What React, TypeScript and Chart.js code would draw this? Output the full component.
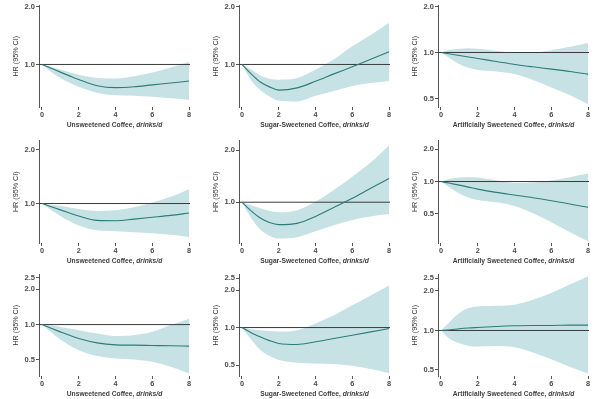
import React, { useEffect, useRef } from "react";
import { Chart, registerables } from "chart.js";

Chart.register(...registerables);

// ---------- data ----------
const DOSE = [0, 0.5, 1, 1.5, 2, 3, 4, 5, 6, 7, 8];
const X_TICKS = [0, 2, 4, 6, 8];
const X_MIN = -0.16;
const X_MAX = 8.05;
const REF_HR = 1;

const TITLE_MAIN = ["Unsweetened Coffee, ", "Sugar-Sweetened Coffee, ", "Artificially Sweetened Coffee, "];
const TITLE_UNIT = "drinks/d";
const Y_TITLE = "HR (95% CI)";

const Y_TICKS_A = [1, 2];
const Y_TICKS_B = [0.5, 1, 2];
const Y_TICKS_C = [0.5, 1, 2, 2.5];

// row 1
const EST_11 = [1, 0.955, 0.912, 0.872, 0.835, 0.775, 0.757, 0.765, 0.783, 0.8, 0.82];
const LO_11 = [1, 0.914, 0.85, 0.804, 0.765, 0.713, 0.69, 0.686, 0.678, 0.666, 0.653];
const HI_11 = [1, 0.974, 0.94, 0.91, 0.883, 0.85, 0.844, 0.867, 0.907, 0.963, 1.034];
const RANGE_11 = [0.63, 2.03];

const EST_12 = [1, 0.893, 0.81, 0.764, 0.735, 0.755, 0.817, 0.893, 0.973, 1.064, 1.164];
const LO_12 = [1, 0.826, 0.735, 0.68, 0.646, 0.641, 0.686, 0.727, 0.773, 0.801, 0.82];
const HI_12 = [1, 0.94, 0.876, 0.843, 0.833, 0.849, 0.94, 1.064, 1.244, 1.425, 1.65];
const RANGE_12 = [0.61, 2.03];

const EST_13 = [1, 0.978, 0.956, 0.935, 0.914, 0.874, 0.835, 0.806, 0.779, 0.752, 0.722];
const LO_13 = [1, 0.914, 0.839, 0.794, 0.767, 0.752, 0.722, 0.66, 0.591, 0.527, 0.458];
const HI_13 = [1, 1.041, 1.057, 1.067, 1.057, 1.025, 0.995, 1.0, 1.036, 1.089, 1.156];
const RANGE_13 = [0.44, 2.03];

// row 2
const EST_21 = [1, 0.96, 0.921, 0.885, 0.851, 0.804, 0.8, 0.817, 0.837, 0.858, 0.884];
const LO_21 = [1, 0.92, 0.851, 0.795, 0.752, 0.707, 0.699, 0.69, 0.681, 0.667, 0.648];
const HI_21 = [1, 0.985, 0.972, 0.95, 0.932, 0.909, 0.917, 0.952, 1.012, 1.09, 1.204];
const RANGE_21 = [0.63, 2.26];

const EST_22 = [1, 0.89, 0.809, 0.762, 0.741, 0.754, 0.827, 0.932, 1.054, 1.204, 1.374];
const LO_22 = [1, 0.81, 0.693, 0.64, 0.615, 0.626, 0.678, 0.734, 0.788, 0.827, 0.853];
const HI_22 = [1, 0.96, 0.924, 0.89, 0.876, 0.899, 1.009, 1.178, 1.405, 1.699, 2.136];
const RANGE_22 = [0.58, 2.28];

const EST_23 = [1, 0.962, 0.925, 0.886, 0.849, 0.791, 0.747, 0.706, 0.662, 0.617, 0.574];
const LO_23 = [1, 0.87, 0.774, 0.71, 0.671, 0.639, 0.591, 0.505, 0.417, 0.337, 0.276];
const HI_23 = [1, 1.06, 1.089, 1.105, 1.089, 1.029, 0.975, 0.98, 1.022, 1.097, 1.186];
const RANGE_23 = [0.266, 2.42];

// row 3
const EST_31 = [1, 0.93, 0.867, 0.81, 0.761, 0.699, 0.672, 0.668, 0.664, 0.66, 0.655];
const LO_31 = [1, 0.86, 0.746, 0.665, 0.606, 0.539, 0.515, 0.505, 0.482, 0.437, 0.384];
const HI_31 = [1, 0.98, 0.955, 0.925, 0.895, 0.839, 0.801, 0.812, 0.867, 0.99, 1.124];
const RANGE_31 = [0.365, 2.67];

const EST_32 = [1, 0.91, 0.842, 0.785, 0.745, 0.731, 0.768, 0.817, 0.868, 0.923, 0.982];
const LO_32 = [1, 0.8, 0.659, 0.59, 0.548, 0.522, 0.515, 0.509, 0.494, 0.464, 0.429];
const HI_32 = [1, 0.97, 0.952, 0.938, 0.929, 0.952, 1.076, 1.255, 1.508, 1.813, 2.18];
const RANGE_32 = [0.408, 2.67];

const EST_33 = [1, 1.012, 1.03, 1.044, 1.054, 1.073, 1.086, 1.092, 1.092, 1.098, 1.098];
const LO_33 = [1, 0.858, 0.8, 0.763, 0.754, 0.763, 0.746, 0.679, 0.603, 0.53, 0.471];
const HI_33 = [1, 1.172, 1.357, 1.482, 1.526, 1.544, 1.572, 1.716, 1.932, 2.236, 2.589];
const RANGE_33 = [0.45, 2.67];

// ---------- styling / layout ----------
const FONT = '"Liberation Sans", Arial, sans-serif';
const BAND = "#c7e2e5";
const LINE = "#2c7c79";
const REF = "#3a3a3a";
const AXIS = "#555555";

const ROWS = [
  { top: 0, h: 133, chartTop: 5, axisH: 26 },
  { top: 135, h: 133, chartTop: 5, axisH: 25 },
  { top: 269, h: 130, chartTop: 5, axisH: 23 },
];
const COL_LEFT = [0, 200, 399];

const PANELS = [
  { r: 0, c: 0, est: EST_11, lo: LO_11, hi: HI_11, range: RANGE_11, yt: Y_TICKS_A },
  { r: 0, c: 1, est: EST_12, lo: LO_12, hi: HI_12, range: RANGE_12, yt: Y_TICKS_A },
  { r: 0, c: 2, est: EST_13, lo: LO_13, hi: HI_13, range: RANGE_13, yt: Y_TICKS_B },
  { r: 1, c: 0, est: EST_21, lo: LO_21, hi: HI_21, range: RANGE_21, yt: Y_TICKS_A },
  { r: 1, c: 1, est: EST_22, lo: LO_22, hi: HI_22, range: RANGE_22, yt: Y_TICKS_A },
  { r: 1, c: 2, est: EST_23, lo: LO_23, hi: HI_23, range: RANGE_23, yt: Y_TICKS_B },
  { r: 2, c: 0, est: EST_31, lo: LO_31, hi: HI_31, range: RANGE_31, yt: Y_TICKS_C },
  { r: 2, c: 1, est: EST_32, lo: LO_32, hi: HI_32, range: RANGE_32, yt: Y_TICKS_C },
  { r: 2, c: 2, est: EST_33, lo: LO_33, hi: HI_33, range: RANGE_33, yt: Y_TICKS_C },
];

const xTitlePlugin = {
  id: "xTitle",
  afterDraw(chart: any, _args: any, opts: any) {
    const { ctx, chartArea } = chart;
    const cx = (chartArea.left + chartArea.right) / 2;
    const y = chartArea.bottom + 18;
    const f1 = `bold 6.7px ${FONT}`;
    const f2 = `italic bold 6.7px ${FONT}`;
    ctx.save();
    ctx.fillStyle = "#404040";
    ctx.textBaseline = "middle";
    ctx.textAlign = "left";
    ctx.font = f1;
    const w1 = ctx.measureText(opts.main).width;
    ctx.font = f2;
    const w2 = ctx.measureText(opts.unit).width;
    const x0 = cx - (w1 + w2) / 2;
    ctx.font = f1;
    ctx.fillText(opts.main, x0, y);
    ctx.font = f2;
    ctx.fillText(opts.unit, x0 + w1, y);
    ctx.restore();
  },
};

function Panel(props: any) {
  const { p } = props;
  const row = ROWS[p.r];
  const ref = useRef<HTMLCanvasElement | null>(null);

  useEffect(() => {
    if (!ref.current) return;
    const pts = (arr: number[]) => DOSE.map((d, i) => ({ x: d, y: arr[i] }));
    const chart = new Chart(ref.current, {
      type: "line",
      data: {
        datasets: [
          {
            data: pts(p.lo),
            borderWidth: 0,
            borderColor: "rgba(0,0,0,0)",
            pointRadius: 0,
            fill: false,
            cubicInterpolationMode: "monotone",
            order: 3,
          },
          {
            data: pts(p.hi),
            borderWidth: 0,
            borderColor: "rgba(0,0,0,0)",
            backgroundColor: BAND,
            pointRadius: 0,
            fill: "-1",
            cubicInterpolationMode: "monotone",
            order: 2,
          },
          {
            data: [
              { x: X_MIN, y: REF_HR },
              { x: X_MAX, y: REF_HR },
            ],
            borderWidth: 1,
            borderColor: REF,
            pointRadius: 0,
            fill: false,
            order: 1,
          },
          {
            data: pts(p.est),
            borderWidth: 1.1,
            borderColor: LINE,
            pointRadius: 0,
            fill: false,
            cubicInterpolationMode: "monotone",
            order: 0,
          },
        ],
      } as any,
      options: {
        animation: false,
        responsive: false,
        maintainAspectRatio: false,
        devicePixelRatio: 1,
        events: [],
        layout: { padding: { top: row.chartTop, right: 10, left: 0, bottom: 0 } },
        plugins: {
          legend: { display: false },
          tooltip: { enabled: false },
          xTitle: { main: TITLE_MAIN[p.c], unit: TITLE_UNIT },
        } as any,
        scales: {
          x: {
            type: "linear",
            min: X_MIN,
            max: X_MAX,
            afterBuildTicks: (s: any) => {
              s.ticks = X_TICKS.map((v) => ({ value: v }));
            },
            afterFit: (s: any) => {
              s.height = row.axisH;
            },
            border: { display: false },
            grid: { drawOnChartArea: false, drawTicks: true, tickLength: 3, color: AXIS, lineWidth: 1 },
            ticks: {
              padding: 1,
              maxRotation: 0,
              autoSkip: false,
              color: "#4a4a4a",
              font: { family: FONT, size: 7.3, weight: "bold" },
              callback: (v: any) => String(v),
            },
          },
          y: {
            type: "logarithmic",
            min: p.range[0],
            max: p.range[1],
            afterBuildTicks: (s: any) => {
              s.ticks = p.yt.map((v: number) => ({ value: v }));
            },
            afterFit: (s: any) => {
              s.width = 39;
            },
            border: { display: true, color: AXIS, width: 1 },
            grid: { drawOnChartArea: false, drawTicks: true, tickLength: 3, color: AXIS, lineWidth: 1 },
            ticks: {
              padding: 1,
              autoSkip: false,
              color: "#4a4a4a",
              font: { family: FONT, size: 7.5, weight: "bold" },
              callback: (v: any) => Number(v).toFixed(1),
            },
            title: {
              display: true,
              text: Y_TITLE,
              color: "#333333",
              padding: { top: 12, bottom: 0 },
              font: { family: FONT, size: 7.2, weight: "normal" },
            },
          },
        },
      } as any,
      plugins: [xTitlePlugin],
    });
    return () => chart.destroy();
  }, []);

  return (
    <canvas
      ref={ref}
      width={200}
      height={row.h}
      style={{
        position: "absolute",
        left: COL_LEFT[p.c],
        top: row.top,
        width: 200,
        height: row.h,
        display: "block",
      }}
    />
  );
}

export default function App() {
  return (
    <div
      style={{
        position: "absolute",
        left: 0,
        top: 0,
        width: 600,
        height: 399,
        background: "#ffffff",
        overflow: "hidden",
      }}
    >
      {PANELS.map((p, i) => (
        <Panel key={i} p={p} />
      ))}
    </div>
  );
}
